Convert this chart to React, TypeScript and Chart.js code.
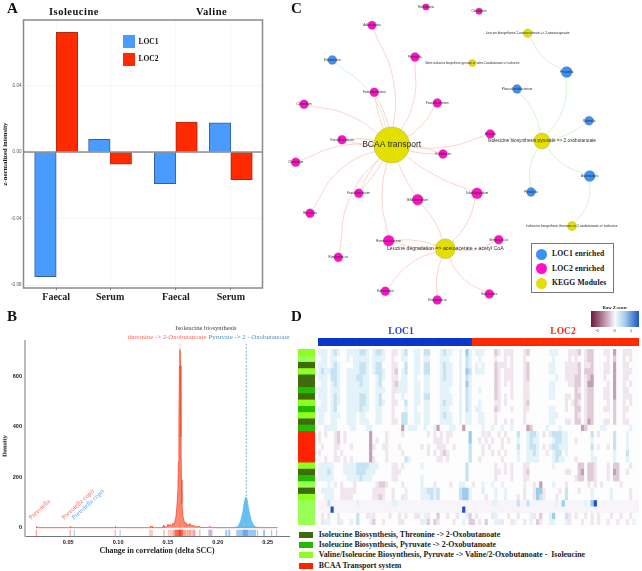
import React, { useEffect, useRef } from "react";
import { Chart, registerables } from "chart.js";
Chart.register(...registerables);

/* ---------- Panel A ---------- */
const barGroups = ["Faecal", "Serum", "Faecal", "Serum"];
const barPositions = [1, 2, 3.22, 4.24];
const loc1Values = [-0.075, 0.0076, -0.019, 0.0175];
const loc2Values = [0.072, -0.0073, 0.018, -0.0166];
const barYTicks = [-0.08, -0.04, 0, 0.04];

/* ---------- Panel B ---------- */
const redDensityX = [0.018, 0.0181, 0.0185, 0.052, 0.0522, 0.0526, 0.097, 0.0972, 0.0976, 0.132, 0.1322, 0.1328, 0.134, 0.1345, 0.145, 0.1455, 0.146, 0.149, 0.15, 0.151, 0.152, 0.154, 0.155, 0.156, 0.157, 0.158, 0.159, 0.16, 0.1605, 0.161, 0.1615, 0.162, 0.1625, 0.163, 0.1635, 0.164, 0.165, 0.166, 0.167, 0.168, 0.169, 0.17, 0.171, 0.172, 0.173, 0.174, 0.175, 0.176, 0.178, 0.182, 0.1825, 0.19, 0.193, 0.1935, 0.2, 0.26];
const redDensityY = [0, 5, 0, 0, 5, 0, 0, 5, 0, 0, 6, 0, 5, 0, 0, 9, 2, 3, 14, 6, 12, 8, 18, 12, 26, 42, 85, 150, 260, 420, 640, 705, 640, 360, 190, 95, 45, 28, 16, 20, 10, 14, 7, 16, 8, 11, 5, 8, 3, 5, 0, 1, 4, 0, 0, 0];
const blueDensityX = [0.2, 0.215, 0.219, 0.221, 0.223, 0.225, 0.226, 0.227, 0.228, 0.229, 0.23, 0.232, 0.234, 0.236, 0.238, 0.24, 0.25];
const blueDensityY = [0, 0.5, 3, 10, 28, 62, 88, 108, 120, 116, 96, 55, 25, 10, 4, 1, 0];
const redRug = [0.018, 0.052, 0.097, 0.132, 0.134, 0.146, 0.151, 0.153, 0.155, 0.156, 0.157, 0.1575, 0.158, 0.1585, 0.159, 0.1595, 0.16, 0.1605, 0.161, 0.1612, 0.1615, 0.1618, 0.162, 0.1622, 0.1625, 0.1628, 0.163, 0.1635, 0.164, 0.1645, 0.165, 0.166, 0.167, 0.168, 0.1695, 0.171, 0.172, 0.173, 0.175, 0.176, 0.177, 0.182, 0.193];
const blueRug = [0.056, 0.102, 0.191, 0.192, 0.194, 0.208, 0.209, 0.211, 0.212, 0.219, 0.22, 0.221, 0.222, 0.223, 0.224, 0.225, 0.2255, 0.226, 0.2265, 0.227, 0.2275, 0.228, 0.2285, 0.229, 0.2295, 0.23, 0.231, 0.232, 0.233, 0.234, 0.235, 0.236, 0.237, 0.238, 0.24, 0.246, 0.247, 0.254, 0.259];
const medianRed = 0.162;
const medianBlue = 0.2285;
const densityXTicks = [0.05, 0.1, 0.15, 0.2, 0.25];
const densityYTicks = [0, 200, 400, 600];
const speciesLabels = ["Prevotella", "Prevotella copri", "Prevotella copri"];
const speciesX = [0.0126, 0.0457, 0.0557];
const speciesColors = ["#ff6a5e", "#ff6a5e", "#5aa5ff"];

/* ---------- Panel C ---------- */
const nodeNames = ["Holdemania", "Clostridium", "Adlercreutzia", "Leucine biosynthesis 2-oxoisovalerate => 2-oxoisocaproate", "Valine isoleucine biosynthesis pyruvate => valine 2-oxobutanoate => isoleucine", "Prevotella", "Eubacterium", "Prevotella", "Faecalibacterium", "Faecalibacterium", "Phascolarctobacterium", "Clostridium", "Sutterella", "Alistipes", "BCAA transport", "Faecalibacterium", "Clostridium", "Oscillibacter", "Isoleucine biosynthesis pyruvate => 2 oxobutanoate", "Anaerostipes", "Faecalibacterium", "Subdoligranulum", "Bifidobacterium", "Prevotella", "Roseburia", "Isoleucine biosynthesis threonine => 2 oxobutanoate => isoleucine", "Ruminococcaceae", "Streptococcus", "Leucine degradation => acetoacetate + acetyl CoA", "Ruminococcus", "Eubacterium", "Streptococcus", "Bacteroides"];
const nodeX = [426, 479, 372, 527.7, 472.3, 415, 332.3, 566.7, 374.3, 437.3, 517, 304, 589, 490.3, 391.7, 342, 295.7, 443, 542, 589.7, 358.7, 477, 417.7, 531, 310, 572, 388.7, 498.7, 445.3, 338.3, 385.3, 437.3, 489.3];
const nodeY = [7, 11.3, 25.3, 33.3, 63, 57, 60, 72, 92.3, 103, 89, 104.3, 120.7, 134, 145, 139.7, 162.3, 154, 141, 176, 193.3, 193.3, 199.7, 192, 213.3, 226, 240.7, 239.7, 248.7, 257.3, 291.3, 300, 294];
const nodeR = [3.3, 3.3, 4.3, 4.3, 3.5, 4.5, 4.5, 5.5, 4.5, 4.5, 4.5, 4.5, 4.5, 4.5, 18, 4.5, 4.5, 4.5, 8, 5.5, 4.5, 5.5, 5.5, 4.5, 4.5, 4.5, 5.5, 4.5, 10, 4.5, 4.5, 4.5, 4.5];
const nodeKind = [2, 2, 2, 3, 3, 2, 1, 1, 2, 2, 1, 2, 1, 2, 3, 2, 2, 2, 3, 1, 2, 2, 2, 1, 2, 3, 2, 2, 3, 2, 2, 2, 2];
const nodeFontSize = [3, 3, 3, 3.2, 2.7, 3, 3, 3, 3, 3, 3, 3, 3, 3, 8.5, 3, 3, 3, 4.7, 3, 3, 3, 3, 3, 3, 3.1, 3, 3, 5.2, 3, 3, 3, 3];
const nodeColors: Record<number, string> = { 1: "#3b8ff5", 2: "#ff10c8", 3: "#e3e000" };
const redEdges = [[2, 14, -12], [5, 14, -10], [8, 14, -3], [8, 14, 3], [9, 14, -6], [11, 14, -9], [13, 14, -8], [15, 14, -3], [15, 14, 3], [16, 14, -8], [17, 14, -3], [17, 14, 3], [20, 14, -3], [20, 14, 2], [21, 14, -5], [22, 14, -2], [24, 14, -14], [26, 14, -8], [29, 14, -15], [21, 28, -6], [22, 28, -4], [26, 28, -4], [26, 28, 3], [27, 28, -6], [30, 28, -8], [31, 28, -4], [32, 28, -8]];
const greenEdges = [[6, 14, -12], [3, 7, 6], [7, 18, -9], [10, 18, -5], [12, 18, -4], [19, 18, -6], [23, 18, -6], [25, 19, 7]];
const networkLegend = ["LOC1 enriched", "LOC2 enriched", "KEGG Modules"];

/* ---------- Panel D ---------- */
const heatRows = [
  "1110121001 1112210122 100aa01200 1102200012 1100103101 11000ba0aa a000ab0000 0011100 0aa ab0abb000a a0c00aaa00",
  "0110110001 0111110111 100a001100 1101100011 1000102100 10000a00a0 a000a00000 0001000 0a0 a00abb0000 a0b00a0a00",
  "1110121000 0112210122 000aa00200 1102200012 1100102101 01000baaa0 a000ab0000 0011000aaa ab0aab000a a0c00aa000",
  "1211221001 1112210122 100ab01200 1102200012 1100103201 11000ba0aa a000ab0000 0011000aaa ab0bbb000a a0c00aaa00",
  "1110221001 1122110012 100aa01100 1001100012 1100102100 00000ba0aa a000ab0000 0000100aaa bb0abc000a 00c00aa000",
  "0110121001 1112110012 000ab11100 1101100011 1100103100 00000ba0a0 a000aa0000 00110000aa bb0acc0000 a0c00a0a00",
  "1110111001 1111110011 100aa11100 1101100011 1000102100 10000ba000 a000aa0000 0011000000 ba0abb000a a0c00aa000",
  "1110121001 1112210012 000a001000 1102200011 1100102100 00000ba0a0 a000aa0000 0011000aa0 bb0abb000a a0c00aaa00",
  "0110121001 1112210012 100aa00200 1101100012 1100102100 10000aa0a0 0000ab0000 0000000a0a ba0abb0000 a0b00a0a00",
  "1110120001 1112110011 000a000100 1001100011 1000102101 10000ba000 a000aa0000 0011000a00 bb0abb000a a0b00aa000",
  "1100111001 1101100011 000a002200 1101100012 1100101100 11000a0000 0000a00000 0011100000 ba0abb0000 00b00a0000",
  "1100110001 1101110011 000aa02200 1101100011 1100101100 11000a00a0 a000a00000 0011000aa0 bb0acb000a a0b00aa000",
  "0011110000 1100011000 000000c011 1001001c00 01100c0000 0100100100 10000cb000 0100010000 00cb000011 0000000100",
  "a0a00ab0a0 000000c000 0a0000a000 0000a0a0a0 aa00000300 0a1a00a0a0 0020012210 a0a2221100 0000020a00 0020001000",
  "a0000ab0a0 000000c0a0 0a00000000 000000aaa0 a000000300 a0a0a00a0a 0010012110 0001221100 a000010000 0020001000",
  "0a000aa000 a00000ca00 aa000a0000 00a0a00aaa 00a0000200 0a0a000a00 0020012210 a0a2211100 0000020100 a020001000",
  "a0000a0a00 000000c000 0a0000a000 0000a0a0ab a000000200 0a00a0a0a0 0010011210 0a01220100 0000010000 0010002000",
  "00a00aa0a0 a00000ca00 0a00000210 0000000aa0 a000000200 a000000a00 0010011110 0001211000 a000011000 0010001000",
  "1111100011 1122221110 000aa0a000 0010000000 0000002000 00000a00a0 a000aa0000 0001000000 0bb0bba000 a0bb000a00",
  "1112100011 1122211100 000aaa0000 0000000000 0000002000 00000aa0a0 a000ab0000 0000000aa0 0bc0bba000 a0cb00a000",
  "1111100001 1112111000 000aa00000 0010000000 0000002000 00000a0000 a000aa0000 0000000000 abb0bba000 a0bb000000",
  "0001010a00 0a000000ab ba0000a000 001000a000 0a001100a0 0100100100 0000100a0c 0001000a00 0000a0a0a0 0000a00000",
  "0111100aaa aa00000aaa a00a000100 0011221200 0000233100 0a00010010 0000a00a33 a0000a0200 0a00010000 0100000a00",
  "0011100aaa a000000aab a00a00a100 0011121200 0000233100 00a0010010 00a0a00a32 a000a00200 0000010000 0100000a00",
  "---2------ --1------- ---11----- ---------- ---------- ----11---- --2--2---- ----1-3--- ---1-34--- ----------",
  "----4----- ---------- ---------- ---------- -----4---- ---------- ---------- ---------- ---------- ----------",
  "0a0a00a000 00200a1a00 00a00a0a00 aa01a00b00 a00a001b0a 0000a1000a 00a0001a0b 00130002a0 a00a0a0a00 0a00a00a00",
  "0a1100a100 1020001b00 a0000aa000 00a1b0ba00 00a0010bb0 a0b0011a00 a100a010ba 00110001a0 00a00a0a00 a00a00a010",
];
const heatColors: Record<string, string> = {
  "0": "#fdfdfe", "-": "#f8f5fa", "1": "#e4f2f9", "2": "#c6e3f2", "3": "#9ccde8", "4": "#1f52c8",
  a: "#f1e6ee", b: "#e0cbd8", c: "#c5a0b6",
  L: "#0b36c8", R: "#ff2a00",
  d: "#3f6b0a", g: "#22bb00", l: "#8cff1e", p: "#99ff55", r: "#ff2200",
};
const sideRow = ["l", "p", "d", "l", "d", "d", "g", "d", "l", "g", "l", "d", "g", "r", "r", "r", "r", "r", "l", "d", "g", "p", "d", "l", "p", "p", "p", "p"];
const loc1Columns = 48;
const loc2Columns = 52;
const moduleLegend = [
  "Isoleucine Biosynthesis, Threonine -> 2-Oxobutanoate",
  "Isoleucine Biosynthesis, Pyruvate -> 2-Oxobutanoate",
  "Valine/Isoleucine Biosynthesis, Pyruvate -> Valine/2-Oxobutanoate -  Isoleucine",
  "BCAA Transport system",
];
const moduleLegendColors = ["#3f6b0a", "#22bb00", "#8cff1e", "#ff2200"];

const SERIF = '"Liberation Serif", serif';
const SANS = '"Liberation Sans", sans-serif';

function Plot({ left, top, w, h, make }: { left: number; top: number; w: number; h: number; make: () => any }) {
  const ref = useRef<HTMLCanvasElement>(null);
  useEffect(() => {
    const chart = new Chart(ref.current as HTMLCanvasElement, make());
    return () => chart.destroy();
  }, []);
  return <canvas ref={ref} width={w} height={h} style={{ position: "absolute", left, top, width: w, height: h, display: "block" }} />;
}

function T({ x, y, size, children, color = "#111", bold = true, family = SERIF, center = false, spacing = 0, rotate = 0 }: any) {
  const move = center ? "translate(-50%,-50%)" : "translateY(-50%)";
  return (
    <div style={{ position: "absolute", left: x, top: y, transform: rotate ? `${move} rotate(${rotate}deg)` : move, fontFamily: family, fontSize: size, fontWeight: bold ? 700 : 400, color, whiteSpace: "pre", lineHeight: 1, letterSpacing: spacing }}>
      {children}
    </div>
  );
}

const base = { responsive: false, animation: false, maintainAspectRatio: false };
const quiet = { legend: { display: false }, tooltip: { enabled: false }, title: { display: false } };

function barConfig() {
  const pts = (vals: number[]) => barPositions.map((x, i) => ({ x, y: vals[i] }));
  return {
    type: "bar",
    data: {
      datasets: [
        { label: "LOC1", data: pts(loc1Values), backgroundColor: "#4a9bff", borderColor: "#35609c", borderWidth: 1, barThickness: 21.5 },
        { label: "LOC2", data: pts(loc2Values), backgroundColor: "#ff2a00", borderColor: "#b02a10", borderWidth: 1, barThickness: 21.5 },
      ],
    },
    options: {
      ...base,
      layout: { autoPadding: false, padding: { top: 20, right: 17.5, left: 0, bottom: 6 } },
      plugins: quiet,
      scales: {
        x: {
          type: "linear", min: 0.394, max: 4.828, offset: false,
          afterFit: (s: any) => { s.height = 12; },
          afterBuildTicks: (s: any) => { s.ticks = barPositions.map((value) => ({ value })); },
          grid: { offset: false, color: "#f3f7f7", tickColor: "#777", tickLength: 2, drawTicks: true },
          border: { display: false },
          ticks: { autoSkip: false, maxRotation: 0, padding: 1, color: "#222", font: { family: SERIF, size: 10, weight: "bold" }, callback: (_: any, i: number) => barGroups[i] },
        },
        y: {
          type: "linear", min: -0.0818, max: 0.0794,
          afterFit: (s: any) => { s.width = 23.5; },
          afterBuildTicks: (s: any) => { s.ticks = barYTicks.map((value) => ({ value })); },
          grid: { color: "#f3f7f7", lineWidth: 1, drawTicks: false },
          border: { display: false },
          ticks: { padding: 2, color: "#555", font: { family: SANS, size: 4.6 }, callback: (v: number) => v.toFixed(2) },
          title: { display: true, text: "z-normalized intensity", color: "#222", padding: { top: 1, bottom: 0 }, font: { family: SERIF, size: 6.6, weight: "bold" } },
        },
      },
    },
    plugins: [{
      id: "frame",
      afterDatasetsDraw(c: any) {
        const { left, top, width, height } = c.chartArea;
        const g = c.ctx; g.save();
        g.strokeStyle = "#555"; g.lineWidth = 1;
        const y0 = c.scales.y.getPixelForValue(0);
        g.beginPath(); g.moveTo(left, y0); g.lineTo(left + width, y0); g.stroke();
        g.strokeStyle = "#8a8a8a"; g.lineWidth = 1.5; g.strokeRect(left, top, width, height);
        g.restore();
      },
    }],
  };
}

function densityConfig() {
  const zip = (xs: number[], ys: number[]) => xs.map((x, i) => ({ x, y: ys[i] }));
  const rug = (xs: number[]) => xs.map((x) => ({ x, y: -21 }));
  const rugStyle = { showLine: false, pointStyle: "line", pointRotation: 90, pointRadius: 3.2, pointBorderWidth: 0.9 };
  return {
    type: "scatter",
    data: {
      datasets: [
        { label: "redRug", data: rug(redRug), pointBorderColor: "rgba(255,40,10,0.55)", ...rugStyle },
        { label: "blueRug", data: rug(blueRug), pointBorderColor: "rgba(40,130,240,0.55)", ...rugStyle },
        { label: "blue", data: zip(blueDensityX, blueDensityY), showLine: true, pointRadius: 0, borderColor: "#5cb6ea", borderWidth: 0.7, backgroundColor: "rgba(85,185,240,0.9)", fill: { value: 0 }, tension: 0.2 },
        { label: "red", data: zip(redDensityX, redDensityY), showLine: true, pointRadius: 0, borderColor: "#f2492f", borderWidth: 0.8, backgroundColor: "rgba(255,90,60,0.72)", fill: { value: 0 }, tension: 0 },
        { label: "medianRed", data: [{ x: medianRed, y: 0 }, { x: medianRed, y: 735 }], showLine: true, pointRadius: 0, borderColor: "#f5a08e", borderWidth: 0.8, borderDash: [2, 1.5] },
        { label: "medianBlue", data: [{ x: medianBlue, y: 0 }, { x: medianBlue, y: 735 }], showLine: true, pointRadius: 0, borderColor: "#5a92c8", borderWidth: 0.8, borderDash: [2, 1.5] },
      ],
    },
    options: {
      ...base,
      layout: { autoPadding: false, padding: { top: 40.7, right: 1, left: 0, bottom: 15 } },
      plugins: quiet,
      scales: {
        x: {
          type: "linear", min: 0.0066, max: 0.2714,
          afterFit: (s: any) => { s.height = 20; },
          afterBuildTicks: (s: any) => { s.ticks = densityXTicks.map((value) => ({ value })); },
          grid: { display: false, drawTicks: false },
          border: { color: "#777", width: 1 },
          ticks: { padding: 3, color: "#222", font: { family: SANS, size: 5.6, weight: "bold" }, maxRotation: 0, callback: (v: number) => v.toFixed(2) },
          title: { display: true, text: "Change in correlation (delta SCC)", color: "#222", padding: 0, font: { family: SERIF, size: 7.9, weight: "bold" } },
        },
        y: {
          type: "linear", min: -33, max: 740,
          afterFit: (s: any) => { s.width = 25; },
          afterBuildTicks: (s: any) => { s.ticks = densityYTicks.map((value) => ({ value })); },
          grid: { display: false, drawTicks: false },
          border: { color: "#bbb", width: 2 },
          ticks: { padding: 3, color: "#222", font: { family: SANS, size: 5.6, weight: "bold" }, callback: (v: number) => String(v) },
        },
      },
    },
    plugins: [{
      id: "speciesText",
      afterDatasetsDraw(c: any) {
        const g = c.ctx;
        speciesLabels.forEach((s, i) => {
          g.save();
          g.translate(c.scales.x.getPixelForValue(speciesX[i]), c.scales.y.getPixelForValue(30));
          g.rotate((-43 * Math.PI) / 180);
          g.fillStyle = speciesColors[i];
          g.font = `6.6px ${SERIF}`;
          g.fillText(s, 0, 0);
          g.restore();
        });
      },
    }],
  };
}

function networkConfig() {
  const edge = (e: number[], color: string) => {
    const [a, b, bend] = e;
    const ax = nodeX[a], ay = nodeY[a], bx = nodeX[b], by = nodeY[b];
    const dx = bx - ax, dy = by - ay, len = Math.hypot(dx, dy);
    return {
      data: [{ x: ax, y: ay }, { x: (ax + bx) / 2 - (dy / len) * bend, y: (ay + by) / 2 + (dx / len) * bend }, { x: bx, y: by }],
      showLine: true, tension: 0.5, pointRadius: 0, borderColor: color, borderWidth: 0.6, order: 2,
    };
  };
  return {
    type: "scatter",
    data: {
      datasets: [
        { data: nodeX.map((x, i) => ({ x, y: nodeY[i] })), pointRadius: nodeR, pointHoverRadius: nodeR, pointBackgroundColor: nodeKind.map((k) => nodeColors[k]), pointBorderColor: "#8a8a70", pointBorderWidth: 0.3, order: 1, clip: false },
        ...redEdges.map((e) => edge(e, "#ffb4a8")),
        ...greenEdges.map((e) => edge(e, "#b6ecae")),
      ],
    },
    options: {
      ...base,
      layout: { autoPadding: false, padding: 0 },
      plugins: quiet,
      scales: {
        x: { type: "linear", min: 280, max: 642, display: false },
        y: { type: "linear", min: 0, max: 305, reverse: true, display: false },
      },
    },
    plugins: [{
      id: "nodeText",
      afterDatasetsDraw(c: any) {
        const g = c.ctx; g.save();
        g.textAlign = "center"; g.textBaseline = "middle"; g.fillStyle = "#2a2a2a";
        nodeNames.forEach((n, i) => {
          g.font = `${nodeFontSize[i]}px ${SANS}`;
          g.fillText(n, c.scales.x.getPixelForValue(nodeX[i]), c.scales.y.getPixelForValue(nodeY[i]));
        });
        g.restore();
      },
    }],
  };
}

function cellConfig(rows: string[][]) {
  return {
    type: "bar",
    data: {
      labels: rows[0].map((_, i) => String(i)),
      datasets: rows.map((row, r) => ({
        data: row.map(() => [r, r + 1]),
        backgroundColor: row.map((k) => heatColors[k]),
        borderWidth: 0,
        grouped: false,
        barPercentage: 1,
        categoryPercentage: 1,
      })),
    },
    options: {
      ...base,
      layout: { autoPadding: false, padding: 0 },
      plugins: quiet,
      scales: {
        x: { type: "category", display: false },
        y: { type: "linear", display: false, min: 0, max: rows.length, reverse: true },
      },
    },
  };
}

const heatMatrix = () => heatRows.map((r) => {
  const cells = r.replace(/\s/g, "").split("");
  while (cells.length < loc1Columns + loc2Columns) cells.push("0");
  return cells.slice(0, loc1Columns + loc2Columns);
});
const sideMatrix = () => sideRow.map((k) => [k]);
const annotMatrix = () => [[...Array(loc1Columns).fill("L"), ...Array(loc2Columns).fill("R")]];

export default function App() {
  const legendY = [254, 268.5, 283];
  const legendKinds = [1, 2, 3];
  const modY = [535, 545.3, 555.3, 565.7];
  return (
    <div style={{ position: "absolute", left: 0, top: 0, width: 642, height: 571, overflow: "hidden", background: "#fff", filter: "blur(0.4px)" }}>
      <Plot left={0} top={0} w={280} h={306} make={barConfig} />
      <Plot left={0} top={300} w={290} h={271} make={densityConfig} />
      <Plot left={280} top={0} w={362} h={305} make={networkConfig} />
      <Plot left={298} top={349} w={17} h={176} make={() => cellConfig(sideMatrix())} />
      <Plot left={318} top={338} w={321} h={8} make={() => cellConfig(annotMatrix())} />
      <Plot left={318} top={349} w={321} h={176} make={() => cellConfig(heatMatrix())} />

      <T x={7} y={8} size={15}>A</T>
      <T x={291} y={8} size={15}>C</T>
      <T x={7} y={316} size={15}>B</T>
      <T x={291} y={316} size={15}>D</T>

      <T x={49} y={12} size={10.5} spacing={0.5}>Isoleucine</T>
      <T x={196} y={12} size={10.5} spacing={0.5}>Valine</T>
      <div style={{ position: "absolute", left: 122.7, top: 35.3, width: 12.5, height: 12.5, background: "#4a9bff" }} />
      <div style={{ position: "absolute", left: 122.7, top: 53, width: 12.5, height: 12.5, background: "#ff2a00" }} />
      <T x={138.5} y={42} size={7.5}>LOC1</T>
      <T x={138.5} y={59} size={7.5}>LOC2</T>

      <T x={5} y={445.7} size={6.8} center rotate={-90}>Density</T>
      <T x={206} y={328} size={6.6} bold={false} color="#444" center>Isoleucine biosynthesis</T>
      <T x={167} y={336.7} size={6.8} bold={false} color="#ff6a5a" center>{"threonine -> 2-Oxobutanoate"}</T>
      <T x={249} y={336.7} size={6.8} bold={false} color="#4a90c0" center>{"Pyruvate -> 2 - Oxobutanoate"}</T>

      <div style={{ position: "absolute", left: 530.7, top: 243.3, width: 81, height: 48, background: "#fff", border: "1px solid #777" }} />
      {networkLegend.map((s, i) => (
        <React.Fragment key={s}>
          <div style={{ position: "absolute", left: 536.2, top: legendY[i] - 5.5, width: 11, height: 11, borderRadius: "50%", background: nodeColors[legendKinds[i]] }} />
          <T x={552} y={legendY[i]} size={7.6} spacing={0.15}>{s}</T>
        </React.Fragment>
      ))}

      <T x={401} y={331.5} size={9.5} color="#2a46d0" center>LOC1</T>
      <T x={563} y={331.5} size={9.5} color="#ff2a10" center>LOC2</T>

      <T x={615} y={308} size={4.6} center>Raw Z-score</T>
      <div style={{ position: "absolute", left: 591, top: 311, width: 48, height: 16, background: "linear-gradient(90deg,#6a1a35 0%,#c79ab0 30%,#f4fbfb 50%,#a7cfee 70%,#1a55c0 100%)" }} />
      <T x={597} y={331} size={4.2} bold={false} center>-5</T>
      <T x={614.5} y={331} size={4.2} bold={false} center>0</T>
      <T x={631} y={331} size={4.2} bold={false} center>5</T>

      {moduleLegend.map((s, i) => (
        <React.Fragment key={s}>
          <div style={{ position: "absolute", left: 299.3, top: modY[i] - 3, width: 13.4, height: 6, background: moduleLegendColors[i] }} />
          <T x={318.7} y={modY[i]} size={7.9} color="#222">{s}</T>
        </React.Fragment>
      ))}
    </div>
  );
}
